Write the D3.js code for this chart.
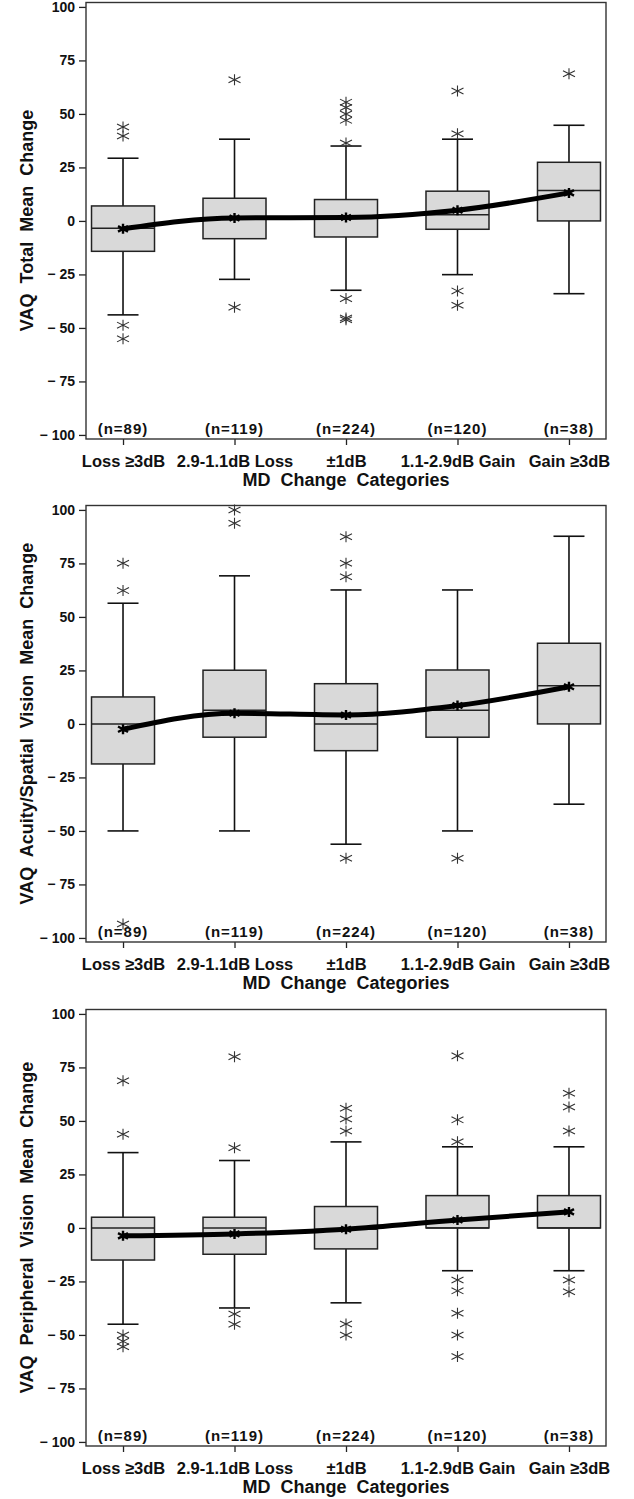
<!DOCTYPE html>
<html><head><meta charset="utf-8">
<script src="https://cdn.jsdelivr.net/npm/d3@7"></script>
<style>
body{margin:0;background:#fff}
svg text{font-family:"Liberation Sans",Arial,Helvetica,sans-serif;font-weight:bold;fill:#111}
</style>
</head><body><svg id="c" width="634" height="1499"></svg>
<script>
const categories = ["Loss ≥3dB","2.9-1.1dB Loss","±1dB","1.1-2.9dB Gain","Gain ≥3dB"];
const counts = ["(n=89)","(n=119)","(n=224)","(n=120)","(n=38)"];
const yTicks = [-100,-75,-50,-25,0,25,50,75,100];
const yTitles = ["VAQ  Total  Mean  Change","VAQ  Acuity/Spatial  Vision  Mean  Change","VAQ  Peripheral  Vision  Mean  Change"];
const xTitle = "MD  Change  Categories";

// Panel 1: VAQ Total
const totalWhiskerLow  = [-43.9,-27.3,-32.4,-25.1,-34.0];
const totalQ1          = [-14.2,-8.3,-7.5,-3.9,0];
const totalMedian      = [-3.4,1.4,1.6,2.9,14.2];
const totalQ3          = [7.0,10.6,10.0,13.9,27.4];
const totalWhiskerHigh = [29.3,38.2,35.0,38.2,44.7];
const totalMean        = [-3.7,1.4,1.6,5.0,13.1];
const totalOutliers    = [[43.9,39.7,-48.7,-55.1],[66,-40.3],[55.5,53,50,47,36.4,-36.3,-45.4,-46.2],[60.7,40.7,-32.7,-39.4],[68.8]];

// Panel 2: VAQ Acuity/Spatial Vision
const acuityWhiskerLow  = [-50,-50,-56.2,-50,-37.5];
const acuityQ1          = [-18.7,-6.2,-12.5,-6.2,0];
const acuityMedian      = [0,6.4,0,6.4,17.8];
const acuityQ3          = [12.6,25.1,18.8,25.2,37.7];
const acuityWhiskerHigh = [56.4,69.2,62.6,62.6,87.7];
const acuityMean        = [-2.5,5.0,4.2,8.6,17.4];
const acuityOutliers    = [[75.1,62.3,-93.5],[100,93.8],[87.5,75.1,68.8,-62.8],[-62.8],[]];

// Panel 3: VAQ Peripheral Vision
const periphWhiskerLow  = [-45.0,-37.4,-35.0,-20.0,-20.0];
const periphQ1          = [-15.0,-12.3,-9.8,0,0];
const periphMedian      = [0,0,-0.6,0,0];
const periphQ3          = [5.0,5.0,10.0,15.1,15.1];
const periphWhiskerHigh = [35.2,31.5,40.2,37.9,37.9];
const periphMean        = [-3.7,-2.8,-0.6,3.7,7.5];
const periphOutliers    = [[68.8,43.8,-50,-53,-55.5],[80,37.5,-40.2,-45],[55.9,50.9,45.3,-44.9,-50],[80.4,50.5,40.3,-24.3,-29.4,-39.9,-50,-60.1],[62.9,56.5,45.3,-24.3,-29.8]];

const panels = [
  {title:yTitles[0], lo:totalWhiskerLow, q1:totalQ1, med:totalMedian, q3:totalQ3, hi:totalWhiskerHigh, mean:totalMean, out:totalOutliers},
  {title:yTitles[1], lo:acuityWhiskerLow, q1:acuityQ1, med:acuityMedian, q3:acuityQ3, hi:acuityWhiskerHigh, mean:acuityMean, out:acuityOutliers},
  {title:yTitles[2], lo:periphWhiskerLow, q1:periphQ1, med:periphMedian, q3:periphQ3, hi:periphWhiskerHigh, mean:periphMean, out:periphOutliers}
];

const svg = d3.select("#c");
const offsets = [2,505,1009];
const L = 86, R = 606, H = 437;
const x = d3.scalePoint().domain(categories).range([L,R]).padding(0.332);
const boxW = 63, capW = 31;

function starPath(r, rx){
  const dy = r*0.55;
  return `M0,${-r}V${r}M${-rx},${-dy}L${rx},${dy}M${-rx},${dy}L${rx},${-dy}`;
}

panels.forEach((p,pi)=>{
  const g = svg.append("g").attr("transform",`translate(0,${offsets[pi]})`);
  const y = d3.scaleLinear().domain([-101.9,102.3]).range([H,0]);

  const ya = g.append("g").attr("transform",`translate(${L},0)`)
    .call(d3.axisLeft(y).tickValues(yTicks).tickSize(7).tickPadding(4)
      .tickFormat(d=> d<0 ? "\u2212 "+Math.abs(d) : String(d)));
  ya.select(".domain").remove();
  ya.selectAll("line").attr("stroke","#222").attr("stroke-width",1.3);
  ya.selectAll("text").style("font-size","14px").attr("fill","#111");

  const xa = g.append("g").attr("transform",`translate(0,${H})`)
    .call(d3.axisBottom(x).tickSize(6).tickPadding(10));
  xa.select(".domain").remove();
  xa.selectAll("line").attr("stroke","#222").attr("stroke-width",1.3);
  xa.selectAll("text").style("font-size","16.5px").attr("fill","#111");

  g.append("rect").attr("x",L).attr("y",0.5).attr("width",R-L).attr("height",H-0.5)
    .attr("fill","none").attr("stroke","#333").attr("stroke-width",1.4);

  const idx = d3.range(categories.length);
  const bx = g.append("g");
  idx.forEach(i=>{
    const cx = x(categories[i]);
    bx.append("line").attr("x1",cx).attr("x2",cx).attr("y1",y(p.q3[i])).attr("y2",y(p.hi[i]))
      .attr("stroke","#111").attr("stroke-width",1.6);
    bx.append("line").attr("x1",cx).attr("x2",cx).attr("y1",y(p.q1[i])).attr("y2",y(p.lo[i]))
      .attr("stroke","#111").attr("stroke-width",1.6);
    bx.append("line").attr("x1",cx-capW/2).attr("x2",cx+capW/2).attr("y1",y(p.hi[i])).attr("y2",y(p.hi[i]))
      .attr("stroke","#111").attr("stroke-width",1.6);
    bx.append("line").attr("x1",cx-capW/2).attr("x2",cx+capW/2).attr("y1",y(p.lo[i])).attr("y2",y(p.lo[i]))
      .attr("stroke","#111").attr("stroke-width",1.6);
    bx.append("rect").attr("x",cx-boxW/2).attr("width",boxW)
      .attr("y",y(p.q3[i])).attr("height",y(p.q1[i])-y(p.q3[i]))
      .attr("fill","#d9d9d9").attr("stroke","#222").attr("stroke-width",1.5);
    bx.append("line").attr("x1",cx-boxW/2).attr("x2",cx+boxW/2).attr("y1",y(p.med[i])).attr("y2",y(p.med[i]))
      .attr("stroke","#222").attr("stroke-width",1.5);
    p.out[i].forEach(v=>{
      bx.append("path").attr("d",starPath(5.5,6)).attr("transform",`translate(${cx},${y(v)})`)
        .attr("fill","none").attr("stroke","#333").attr("stroke-width",1.1);
    });
  });

  const line = d3.line().x(i=>x(categories[i])).y(i=>y(p.mean[i])).curve(d3.curveMonotoneX);
  g.append("path").attr("d",line(idx)).attr("fill","none").attr("stroke","#000").attr("stroke-width",5)
    .attr("stroke-linejoin","round");
  idx.forEach(i=>{
    g.append("path").attr("d",starPath(5,5)).attr("transform",`translate(${x(categories[i])},${y(p.mean[i])})`)
      .attr("fill","none").attr("stroke","#000").attr("stroke-width",2.4);
  });

  g.selectAll(".cnt").data(counts).enter().append("text")
    .attr("x",(d,i)=>x(categories[i])).attr("y",432)
    .attr("text-anchor","middle").style("font-size","15px").style("letter-spacing","1px")
    .text(d=>d);

  g.append("text").attr("transform",`translate(33,${H/2}) rotate(-90)`)
    .attr("text-anchor","middle").style("font-size","18px").style("white-space","pre")
    .text(p.title);
  g.append("text").attr("x",(L+R)/2).attr("y",484).attr("text-anchor","middle")
    .style("font-size","18px").style("white-space","pre").text(xTitle);
});
</script>
</body></html>
